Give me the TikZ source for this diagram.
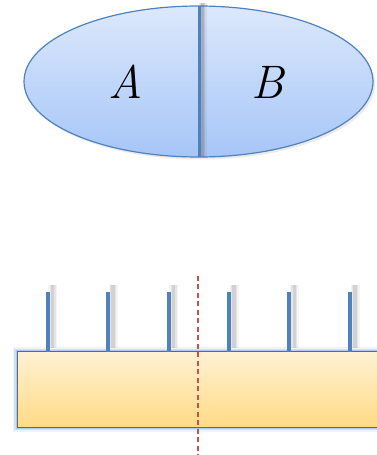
\documentclass[tikz,border=0pt]{standalone}
\usepackage{fontspec}
\usetikzlibrary{shapes.geometric}
\definecolor{edgeblue}{HTML}{4F81BD}
\definecolor{topblue}{HTML}{DCE8FC}
\definecolor{botblue}{HTML}{A6C6F8}
\definecolor{topgold}{HTML}{FFF1D4}
\definecolor{botgold}{HTML}{FFDB85}
\definecolor{glowblue}{HTML}{8DB3EE}
\definecolor{rimgray}{HTML}{5C6B7A}
\definecolor{cutred}{HTML}{C9504D}
\tikzset{
  tickline/.style={draw=edgeblue,line width=4pt},
  letter/.style={font=\fontsize{47}{47}\selectfont\itshape},
}
\begin{document}
\begin{tikzpicture}[x=1pt,y=-1pt]
\useasboundingbox (0,0) rectangle (376,455);
% ellipse
\fill[black!20,opacity=0.4] (200.5,84) ellipse [x radius=174.5,y radius=75.5];
\shade[top color=topblue,bottom color=botblue,draw=edgeblue,line width=1.2pt]
  (198.5,81.5) ellipse [x radius=174.5,y radius=75.5];
\node[coordinate] (dtop) at (199,6) {};
\node[coordinate] (dbot) at (199,157) {};
\foreach \w/\o in {8/0.1,5/0.15,3/0.22}
  \draw[black!60,line width=\w pt,opacity=\o] ([xshift=3.5pt,yshift=3pt]dtop) -- ([xshift=3.5pt]dbot);
\draw[edgeblue,line width=3pt] (dtop) -- (dbot);
\node[letter] (a) at (126,82) {A};
\node[letter] (b) at (268,82) {B};
% bar glow
\foreach \w/\o in {9/0.15,6/0.3,3/0.5}
  \draw[glowblue,line width=\w pt,opacity=\o] (17.3,351.7) rectangle (390,427.3);
\shade[top color=topgold,bottom color=botgold] (17.3,351.7) rectangle (390,427.3);
\draw[rimgray,line width=0.8pt] (17.3,351.7) rectangle (390,427.3);
% ticks
\foreach \i/\x in {1/47.7,2/108,3/168.7,4/229,5/289.3,6/350}{
  \node[coordinate] (t\i) at (\x,291.7) {};
  \node[coordinate] (s\i) at (\x,351.7) {};
  \foreach \w/\o in {9/0.06,6/0.09,3.5/0.13}
    \draw[black!70,line width=\w pt,opacity=\o] ([xshift=5pt,yshift=7pt]t\i) -- ([xshift=5pt,yshift=4pt]s\i);
  \draw[tickline] (t\i) -- (s\i);
}
% cut line
\node[coordinate] (ctop) at (198.3,275.7) {};
\node[coordinate] (cbot) at (198.3,455) {};
\draw[cutred,line width=1.8pt,dash pattern=on 5pt off 3.5pt] (ctop) -- (cbot);
\end{tikzpicture}
\end{document}
